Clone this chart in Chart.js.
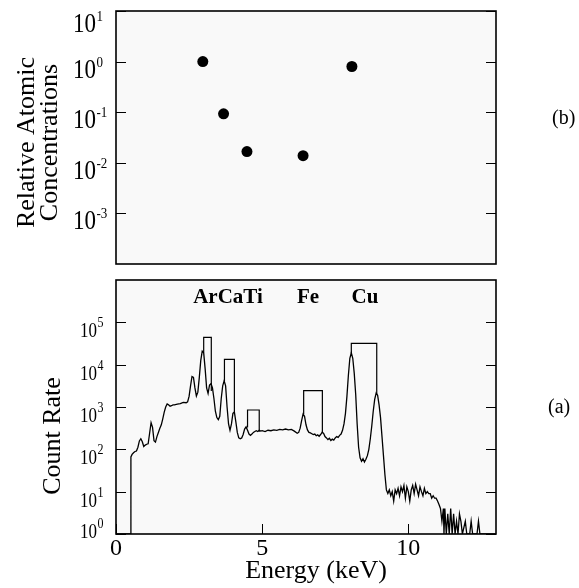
<!DOCTYPE html>
<html>
<head>
<meta charset="utf-8">
<script src="https://cdn.jsdelivr.net/npm/chart.js@4.4.1/dist/chart.umd.min.js"></script>
<style>
  html, body { margin: 0; padding: 0; background: #fff; }
  #wrap { position: relative; width: 579px; height: 588px; }
  .panel { position: absolute; left: 0; width: 579px; }
  #concPanel { top: 0; height: 272px; }
  #specPanel { top: 272px; height: 316px; }
</style>
</head>
<body>
<div id="wrap">
  <div class="panel" id="concPanel"><canvas id="concChart"></canvas></div>
  <div class="panel" id="specPanel"><canvas id="specChart"></canvas></div>
</div>
<script>
const SERIF = '"Liberation Serif", "Times New Roman", serif';

// (b) relative atomic concentrations, placed at each element's K line
const elements = ['Ar', 'Ca', 'Ti', 'Fe', 'Cu'];
const lineEnergy = [2.97, 3.68, 4.48, 6.40, 8.07];
const relConc = [1.0, 0.093, 0.0167, 0.0138, 0.80];
const concTicks = [10, 1, 0.1, 0.01, 0.001];

// (a) measured spectrum
const energy = [
  0.00, 0.50, 0.51, 0.55, 0.60, 0.65, 0.70, 0.75, 0.80, 0.85, 0.90, 0.95,
  1.00, 1.05, 1.10, 1.15, 1.20, 1.25, 1.30, 1.35, 1.40, 1.45, 1.50, 1.55,
  1.60, 1.65, 1.70, 1.75, 1.80, 1.85, 1.90, 1.95, 2.00, 2.10, 2.20, 2.30,
  2.40, 2.45, 2.50, 2.55, 2.60, 2.65, 2.70, 2.75, 2.80, 2.85, 2.90, 2.95,
  3.00, 3.05, 3.10, 3.15, 3.20, 3.25, 3.30, 3.35, 3.40, 3.45, 3.50, 3.55,
  3.60, 3.65, 3.70, 3.75, 3.80, 3.85, 3.90, 3.95, 4.00, 4.05, 4.10, 4.15,
  4.20, 4.25, 4.30, 4.35, 4.40, 4.45, 4.50, 4.55, 4.60, 4.65, 4.70, 4.75,
  4.80, 4.85, 4.90, 4.95, 5.00, 5.10, 5.20, 5.30, 5.40, 5.50, 5.60, 5.70,
  5.80, 5.90, 6.00, 6.10, 6.20, 6.25, 6.30, 6.35, 6.40, 6.45, 6.50, 6.55,
  6.60, 6.65, 6.70, 6.75, 6.80, 6.85, 6.90, 6.95, 7.00, 7.05, 7.10, 7.15,
  7.20, 7.25, 7.30, 7.35, 7.40, 7.45, 7.50, 7.55, 7.60, 7.65, 7.70, 7.75,
  7.80, 7.85, 7.90, 7.95, 8.00, 8.05, 8.10, 8.15, 8.20, 8.25, 8.30, 8.35,
  8.40, 8.45, 8.50, 8.55, 8.60, 8.65, 8.70, 8.75, 8.80, 8.85, 8.90, 8.95,
  9.00, 9.05, 9.10, 9.15, 9.20, 9.25, 9.30, 9.35, 9.40, 9.45, 9.50, 9.55,
  9.60, 9.65, 9.70, 9.75, 9.80, 9.85, 9.90, 9.95, 10.00, 10.05, 10.10, 10.15,
  10.20, 10.25, 10.30, 10.35, 10.40, 10.45, 10.50, 10.55, 10.60, 10.65, 10.70, 10.75,
  10.80, 10.85, 10.90, 10.95, 11.00, 11.05, 11.10, 11.15, 11.20, 11.22, 11.25, 11.30,
  11.35, 11.40, 11.45, 11.50, 11.55, 11.60, 11.65, 11.70, 11.75, 11.80, 11.85, 11.95,
  12.00, 12.10, 12.15, 12.20, 12.35, 12.40, 12.45, 13.00
];
const counts = [
  1, 1, 66, 76, 83, 89, 91, 112, 158, 178, 151, 117,
  126, 132, 135, 240, 427, 330, 160, 148, 200, 251, 316, 380,
  525, 759, 1000, 1175, 1122, 1047, 1072, 1122, 1122, 1175, 1202, 1288,
  1259, 1318, 1778, 3162, 5248, 5012, 2818, 1820, 2239, 5012, 12590, 20890,
  19050, 7943, 2818, 2089, 3311, 3548, 2818, 1585, 794, 562, 501, 603,
  1585, 3162, 4169, 3162, 1000, 398, 282, 398, 708, 759, 447, 251,
  186, 178, 186, 224, 302, 339, 282, 229, 214, 229, 251, 263,
  275, 263, 282, 269, 275, 263, 282, 275, 288, 282, 295, 288,
  302, 288, 295, 269, 240, 251, 316, 479, 676, 603, 380, 288,
  251, 245, 234, 224, 229, 209, 219, 204, 224, 251, 240, 200,
  186, 170, 182, 162, 174, 166, 186, 200, 191, 214, 229, 282,
  398, 708, 1778, 5623, 14130, 19050, 14130, 6310, 1995, 398, 112, 63,
  52, 60, 50, 58, 71, 100, 178, 355, 794, 1514, 2138, 1905,
  1122, 562, 200, 71, 25, 11, 9, 11, 8, 10, 6, 11,
  9, 12, 8, 13, 10, 14, 7, 13, 10, 6, 11, 14,
  9, 15, 11, 8, 13, 10, 8, 12, 9, 10, 9, 9,
  7, 8, 7, 7, 6, 5, 4, 2, 4, 1, 4, 1,
  3, 1, 4, 1, 3, 1, 2, 1, 3, 2, 1, 2,
  1, 1, 2, 1, 1, 2, 1, 1
];
const countTicks = [1, 10, 100, 1000, 10000, 100000];
const energyTicks = [0, 5, 10];

// integration windows, drawn as open boxes hung over the peaks
const roiLo = [3.00, 3.71, 4.50, 6.42, 8.05];
const roiHi = [3.26, 4.05, 4.90, 7.06, 8.92];
const roiTop = [44000, 13400, 850, 2430, 32000];
const roiLoBase = [19500, 4100, 330, 676, 18600];
const roiHiBase = [2400, 700, 262, 250, 2000];

const peakNames = ['ArCaTi', 'Fe', 'Cu'];
const peakNameAt = [3.83, 6.57, 8.52];

function drawPow(ctx, x, y, exp, s) {
  ctx.save();
  ctx.translate(x, y);
  ctx.scale(1, s.stretch);
  ctx.textAlign = 'left';
  ctx.textBaseline = 'alphabetic';
  ctx.font = s.base + 'px ' + SERIF;
  ctx.fillText('10', 0, 0);
  const w = ctx.measureText('10').width;
  ctx.font = s.sup + 'px ' + SERIF;
  ctx.fillText(String(exp), w + 0.5, -s.rise / s.stretch);
  ctx.restore();
}

function fillArea(chart) {
  const { ctx, chartArea: a } = chart;
  ctx.save();
  ctx.fillStyle = '#f9f9f9';
  ctx.fillRect(a.left, a.top, a.width, a.height);
  ctx.restore();
}

function frameAndTicks(chart, yTicks, xTicks) {
  const { ctx, chartArea: a, scales: { x, y } } = chart;
  ctx.save();
  ctx.strokeStyle = '#000';
  ctx.lineWidth = 1;
  ctx.beginPath();
  yTicks.forEach(v => {
    const py = Math.round(y.getPixelForValue(v)) + 0.5;
    ctx.moveTo(a.left, py); ctx.lineTo(a.left + 10, py);
    ctx.moveTo(a.right, py); ctx.lineTo(a.right - 10, py);
  });
  xTicks.forEach(v => {
    const px = Math.round(x.getPixelForValue(v)) + 0.5;
    ctx.moveTo(px, a.bottom); ctx.lineTo(px, a.bottom - 10);
  });
  ctx.stroke();
  ctx.lineWidth = 1.6;
  ctx.strokeRect(a.left, a.top, a.width, a.height);
  ctx.restore();
}

function vText(ctx, text, x, y, size) {
  ctx.save();
  ctx.translate(x, y);
  ctx.rotate(-Math.PI / 2);
  ctx.font = size + 'px ' + SERIF;
  ctx.textAlign = 'center';
  ctx.textBaseline = 'middle';
  ctx.fillText(text, 0, 0);
  ctx.restore();
}

const concDecor = {
  id: 'concDecor',
  beforeDatasetsDraw: fillArea,
  afterDraw(chart) {
    const { ctx, chartArea: a, scales: { y } } = chart;
    frameAndTicks(chart, concTicks, []);
    ctx.save();
    ctx.fillStyle = '#000';
    const lab = { base: 23, sup: 13, stretch: 1.15, rise: 11 };
    concTicks.forEach(v => {
      const base = Math.max(y.getPixelForValue(v) + 16, a.top + 21);
      drawPow(ctx, a.left - 43, base, Math.round(Math.log10(v)), lab);
    });
    const cy = (a.top + a.bottom) / 2 + 5;
    vText(ctx, 'Relative Atomic', a.left - 89, cy, 26);
    vText(ctx, 'Concentrations', a.left - 66, cy, 26);
    ctx.font = '20px ' + SERIF;
    ctx.textAlign = 'left';
    ctx.textBaseline = 'middle';
    ctx.fillText('(b)', a.right + 56, 119);
    ctx.restore();
  }
};

const specDecor = {
  id: 'specDecor',
  beforeDatasetsDraw: fillArea,
  afterDraw(chart) {
    const { ctx, chartArea: a, scales: { x, y } } = chart;
    frameAndTicks(chart, countTicks, energyTicks);
    ctx.save();
    ctx.fillStyle = '#000';
    const lab = { base: 17, sup: 12, stretch: 1.25, rise: 10 };
    countTicks.forEach(v => {
      const base = Math.min(y.getPixelForValue(v) + 15, a.bottom + 4);
      drawPow(ctx, a.left - 36, base, Math.round(Math.log10(v)), lab);
    });
    ctx.font = '24px ' + SERIF;
    ctx.textAlign = 'center';
    ctx.textBaseline = 'alphabetic';
    energyTicks.forEach(v => ctx.fillText(String(v), x.getPixelForValue(v), a.bottom + 21));
    ctx.font = '26px ' + SERIF;
    ctx.fillText('Energy (keV)', (a.left + a.right) / 2 + 10, a.bottom + 44);
    ctx.font = 'bold 21px ' + SERIF;
    peakNames.forEach((n, i) => ctx.fillText(n, x.getPixelForValue(peakNameAt[i]), a.top + 23));
    vText(ctx, 'Count Rate', a.left - 63, (a.top + a.bottom) / 2 + 29, 26);
    ctx.font = '20px ' + SERIF;
    ctx.textAlign = 'left';
    ctx.textBaseline = 'middle';
    ctx.fillText('(a)', a.right + 52, 136);
    ctx.restore();
  }
};

const common = {
  responsive: true,
  maintainAspectRatio: false,
  animation: false,
  events: [],
  plugins: { legend: { display: false }, tooltip: { enabled: false } }
};

new Chart(document.getElementById('concChart'), {
  type: 'scatter',
  data: {
    labels: elements,
    datasets: [{
      data: lineEnergy.map((e, i) => ({ x: e, y: relConc[i] })),
      pointRadius: 5.5,
      pointBackgroundColor: '#000',
      pointBorderWidth: 0
    }]
  },
  options: {
    ...common,
    layout: { padding: { left: 116, right: 83, top: 11, bottom: 8 } },
    scales: {
      x: { type: 'linear', min: 0, max: 13, display: false },
      y: { type: 'logarithmic', min: 1e-4, max: 10, display: false }
    }
  },
  plugins: [concDecor]
});

const roiSets = roiLo.map((lo, i) => ({
  data: [
    { x: lo, y: roiLoBase[i] }, { x: lo, y: roiTop[i] },
    { x: roiHi[i], y: roiTop[i] }, { x: roiHi[i], y: roiHiBase[i] }
  ],
  borderColor: '#000',
  borderWidth: 1.2,
  pointRadius: 0,
  tension: 0
}));

new Chart(document.getElementById('specChart'), {
  type: 'line',
  data: {
    datasets: [{
      data: energy.map((e, i) => ({ x: e, y: counts[i] })),
      borderColor: '#000',
      borderWidth: 1.3,
      pointRadius: 0,
      tension: 0
    }, ...roiSets]
  },
  options: {
    ...common,
    layout: { padding: { left: 116, right: 83, top: 8, bottom: 54 } },
    scales: {
      x: { type: 'linear', min: 0, max: 13, display: false },
      y: { type: 'logarithmic', min: 1, max: 1e6, display: false }
    }
  },
  plugins: [specDecor]
});
</script>
</body>
</html>
